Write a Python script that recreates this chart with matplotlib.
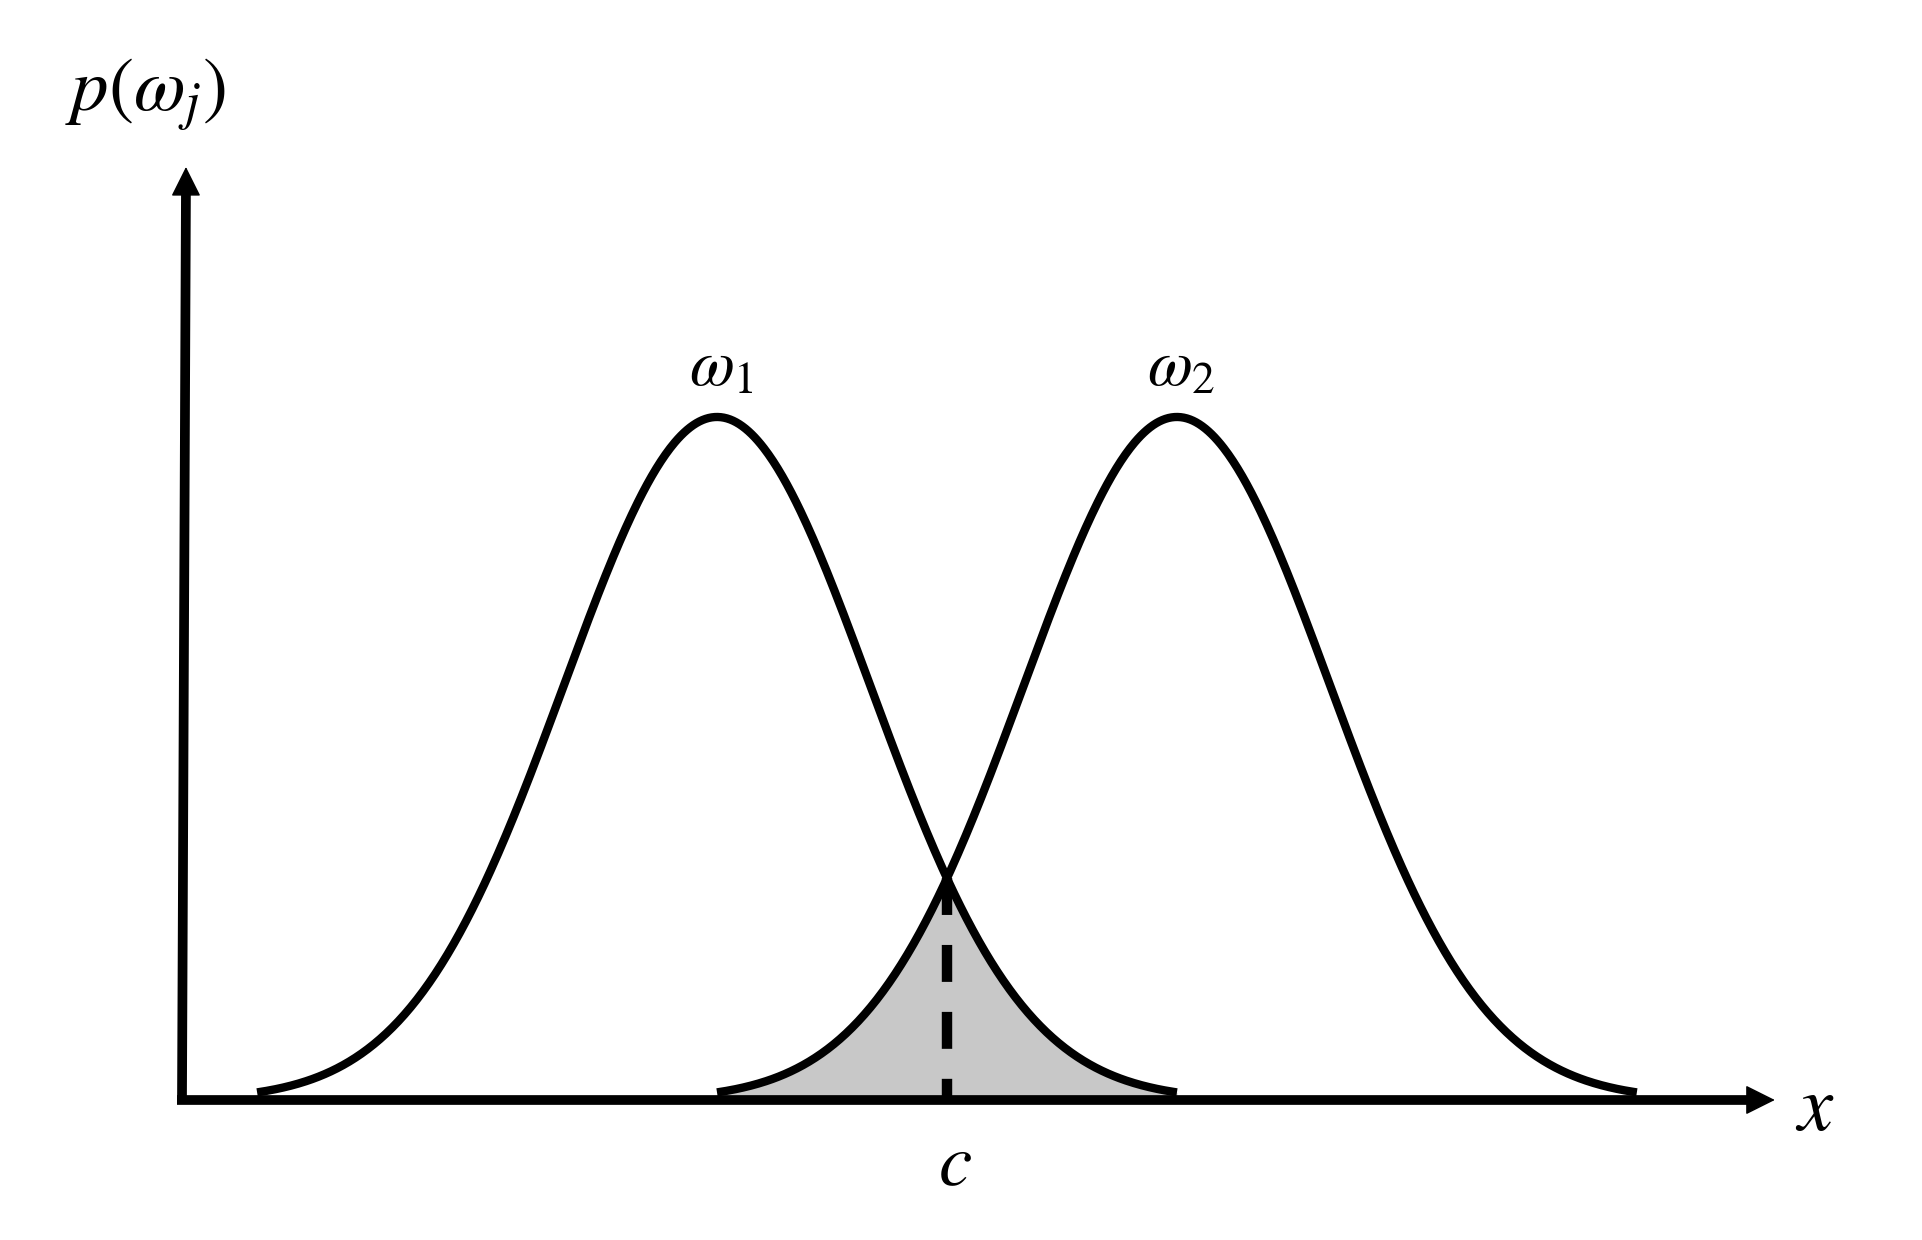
import numpy as np
import matplotlib
matplotlib.use("Agg")
import matplotlib.pyplot as plt

plt.rcParams['mathtext.fontset'] = 'stix'
plt.rcParams['lines.scale_dashes'] = False

# ---- data (conceptual class-conditional densities, in units of sigma) ----
class_names = [r'$\omega_1$', r'$\omega_2$']
class_means = [0.0, 3.0]
class_sigma = 1.0
cutoff_sigmas = 3.0          # curves drawn over mean +/- 3 sigma
threshold_label = r'$c$'
x_label = r'$x$'
y_label = r'$p\left(\omega_j\right)$'

# axis extents (same units)
axis_origin = (-3.49, 0.0)
y_axis_top = (-3.464, 1.366)
x_axis_end = 6.90

def density(x, mu):
    return np.exp(-0.5 * ((x - mu) / class_sigma) ** 2)

fig = plt.figure(figsize=(19.22, 12.40), dpi=100)
ax = fig.add_axes([0, 0, 1, 1])
ax.set_xlim(-4.677, 7.860)
ax.set_ylim(-0.205, 1.6105)
ax.axis('off')

LW = 6.0
curves = []
for mu, name in zip(class_means, class_names):
    xs = np.linspace(mu - cutoff_sigmas * class_sigma, mu + cutoff_sigmas * class_sigma, 600)
    ys = density(xs, mu)
    curves.append((xs, ys))
    ax.text(mu + 0.03, 1.072, name, fontsize=47, ha='center', va='center')

# overlap region
lo = class_means[1] - cutoff_sigmas * class_sigma
hi = class_means[0] + cutoff_sigmas * class_sigma
xo = np.linspace(lo, hi, 600)
yo = np.minimum(density(xo, class_means[0]), density(xo, class_means[1]))
ax.fill_between(xo, 0, yo, color='#c8c8c8', lw=0, zorder=1)

for xs, ys in curves:
    ax.plot(xs, ys, color='black', lw=LW, solid_capstyle='butt', zorder=3)

# threshold c (intersection)
c = 0.5 * (class_means[0] + class_means[1])
yc = density(c, class_means[0])
ax.plot([c, c], [yc, 0], color='black', lw=7.5, dashes=(26.6, 21.6),
        dash_capstyle='butt', zorder=4)
ax.text(c + 0.055, -0.095, threshold_label, fontsize=54, ha='center', va='center')

# axes with arrows
ax.plot([axis_origin[0] - 0.03, x_axis_end - 0.15], [0, 0], color='black', lw=7,
        solid_capstyle='butt', zorder=5)
ax.plot([axis_origin[0], y_axis_top[0]], [axis_origin[1] - 0.004, y_axis_top[1] - 0.03],
        color='black', lw=7, solid_capstyle='butt', zorder=5)
arrow_kw = dict(arrowstyle='-|>,head_length=19,head_width=9.5', color='black',
                lw=1.0, mutation_scale=1, shrinkA=0, shrinkB=0)
ax.annotate('', xy=(x_axis_end, 0), xytext=(x_axis_end - 0.3, 0), arrowprops=arrow_kw, zorder=6)
ax.annotate('', xy=y_axis_top, xytext=(y_axis_top[0], y_axis_top[1] - 0.08),
            arrowprops=arrow_kw, zorder=6)

ax.text(7.16, -0.012, x_label, fontsize=57, ha='center', va='center')
ax.text(-3.725, 1.471, y_label, fontsize=54, ha='center', va='center')

fig.savefig('out.png', dpi=100)
